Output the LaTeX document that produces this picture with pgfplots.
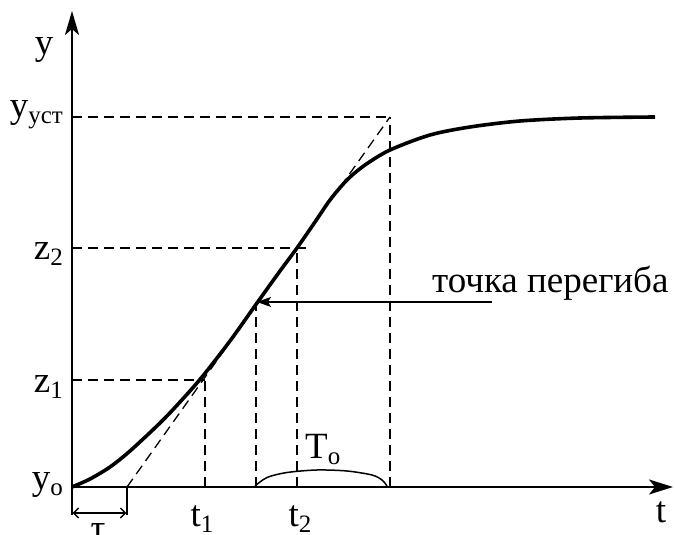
\documentclass[border=0pt]{standalone}
\usepackage{fontspec}
\setmainfont{Liberation Serif}
\usepackage{pgfplots}
\pgfplotsset{compat=1.18}
\usetikzlibrary{arrows.meta}
\newcommand{\sub}[1]{\raisebox{-0.15em}{\fontsize{25}{25}\selectfont #1}}
\begin{document}
\begin{tikzpicture}[lbl/.style={font=\fontsize{37}{42}\selectfont, inner sep=0pt}]
\begin{axis}[
  scale only axis, width=675pt, height=535pt,
  xmin=-72, xmax=603, ymin=-48, ymax=487,
  hide axis, clip=false,
]
% tangent and guide lines
\addplot[dash pattern=on 10pt off 6pt, line width=1.3pt] coordinates {(55,0) (318,370)};
\addplot[dash pattern=on 10pt off 6pt, line width=1.3pt] coordinates {(0,370) (318,370)};
\addplot[dash pattern=on 10pt off 6pt, line width=1.3pt] coordinates {(0,239) (238,239)};
\addplot[dash pattern=on 10pt off 6pt, line width=1.3pt] coordinates {(0,107) (133,107)};
\addplot[dash pattern=on 10pt off 6pt, line width=1.3pt] coordinates {(133,0) (133,107)};
\addplot[dash pattern=on 10pt off 6pt, line width=1.3pt] coordinates {(184,0) (184,185)};
\addplot[dash pattern=on 10pt off 6pt, line width=1.3pt] coordinates {(225,0) (225,239)};
\addplot[dash pattern=on 10pt off 6pt, line width=1.3pt] coordinates {(318,0) (318,370)};
% response curve
\addplot[line width=3.6pt, smooth] coordinates {
(0,0) (18,8) (38,20) (58,36) (88,64) (108,85) (130,110) (158,146) (185,184)
(208,216) (225,239) (243,265) (258,287) (275,307) (293,322) (318,337)
(358,352) (398,360) (448,366) (508,369) (583,370)};
% axes
\addplot[line width=2.4pt, -{Stealth[length=24pt,width=14pt,inset=6pt]}] coordinates {(0,0) (0,476)};
\addplot[line width=2.4pt, -{Stealth[length=24pt,width=15pt,inset=6pt]}] coordinates {(0,0) (601,0)};
% tau bracket
\addplot[line width=1.4pt] coordinates {(0,0) (0,-28)};
\addplot[line width=1.4pt] coordinates {(55,0) (55,-28)};
\addplot[line width=1.3pt, {Straight Barb[length=5pt,width=10pt]}-{Straight Barb[length=5pt,width=10pt]}] coordinates {(0.7,-26) (54.3,-26)};
% T_o arc
\addplot[line width=1.5pt, smooth] coordinates {(183,1) (195,9.5) (215,14.5) (245,17) (275,16) (300,12) (310,7) (315,1)};
% inflection arrow
\addplot[line width=1.3pt, -{Stealth[length=14pt,width=10pt,inset=3pt]}] coordinates {(420,185) (185,185)};
% labels
\node[lbl, anchor=base] at (axis cs:-28,432) {y};
\node[lbl, anchor=base east] at (axis cs:-9,369) {y\sub{уст}};
\node[lbl, anchor=base east] at (axis cs:-9,227) {z\sub{2}};
\node[lbl, anchor=base east] at (axis cs:-9,94) {z\sub{1}};
\node[lbl, anchor=base east] at (axis cs:-9,-3) {y\sub{o}};
\node[lbl, anchor=base] at (axis cs:130,-40) {t\sub{1}};
\node[lbl, anchor=base] at (axis cs:228,-40) {t\sub{2}};
\node[lbl, anchor=base] at (axis cs:589,-36) {t};
\node[lbl, anchor=base, overlay] at (axis cs:26,-54) {τ};
\node[lbl, anchor=base west] at (axis cs:233,28) {T\sub{o}};
\node[lbl, anchor=base west] at (axis cs:360,194) {точка перегиба};
\end{axis}
\pgfresetboundingbox
\path[use as bounding box] (current axis.south west) rectangle (current axis.north east);
\end{tikzpicture}
\end{document}
